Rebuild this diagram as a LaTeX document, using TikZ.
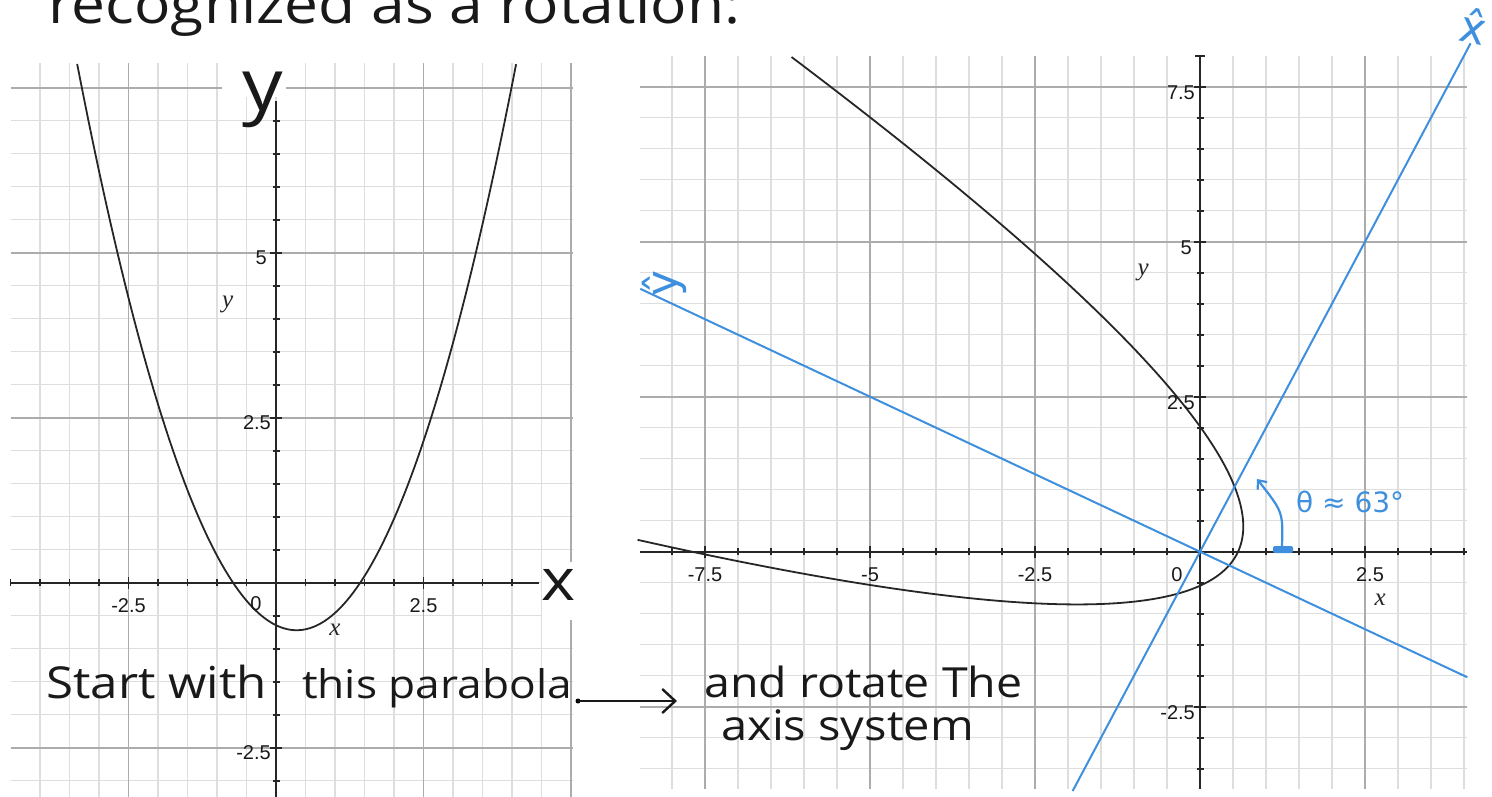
\documentclass[tikz,border=0pt]{standalone}
\usepackage{fontspec}
\setmainfont{Liberation Serif}
\newfontfamily\labfont{Liberation Sans}
\newfontfamily\handfont[FakeStretch=1.12]{Open Sans}
\newfontfamily\symfont{DejaVu Sans}
\usetikzlibrary{arrows.meta}
\definecolor{gridminor}{RGB}{222,222,222}
\definecolor{gridmajor}{RGB}{172,172,172}
\definecolor{hatblue}{RGB}{62,144,222}
\begin{document}
\begin{tikzpicture}[x=1pt,y=-1pt,
  minorgrid/.style={gridminor, line width=1.3pt},
  majorgrid/.style={gridmajor, line width=1.7pt},
  axisline/.style={black!85, line width=2.4pt},
  tickmark/.style={black!85, line width=1.8pt},
  curveline/.style={black!85, line width=1.8pt},
  rotaxis/.style={hatblue, line width=2pt},
  ticklabel/.style={font=\labfont\fontsize{20}{20}\selectfont, inner sep=0pt, text=black!90},
  varlabel/.style={font=\itshape\fontsize{25}{25}\selectfont, inner sep=0pt, text=black!85},
  hand/.style={font=\handfont\fontsize{42}{48}\selectfont, inner sep=0pt, text=black!90},
  bluehand/.style={text=hatblue, inner sep=0pt},
]
\useasboundingbox (0,0) rectangle (1492,796);
\clip (0,0) rectangle (1492,796);

% ---------------- left graph ----------------
\begin{scope}[shift={(276,582.7)}, x=59pt, y=66pt]
  \foreach \i in {-8,...,10} \draw[minorgrid] (\i/2,-3.3) -- (\i/2,7.87);
  \foreach \j in {-6,...,15} \draw[minorgrid] (-4.5,\j/2) -- (5.03,\j/2);
  \foreach \v in {-2.5,2.5,5} \draw[majorgrid] (\v,-3.3) -- (\v,7.87);
  \foreach \v in {-2.5,2.5,5,7.5} \draw[majorgrid] (-4.5,\v) -- (5.03,\v);
\end{scope}
% white patches behind hand-written letters
\fill[white] (222,62) rectangle (286,97);
\fill[white] (542,562) rectangle (600,620);
\begin{scope}[shift={(276,582.7)}, x=59pt, y=66pt]
  \draw[axisline] (-4.5,0) -- (4.45,0);
  \draw[axisline] (0,-3.3) -- (0,7.3);
  \foreach \i in {-9,...,-1,1,2,...,8} \draw[tickmark] (\i/2,0) ++(0pt,-3.5pt) -- ++(0pt,7pt);
  \foreach \j in {-6,...,-1,1,2,...,14} \draw[tickmark] (0,\j/2) ++(-3.5pt,0pt) -- ++(7pt,0pt);
  \foreach \v in {-2.5,2.5} \draw[tickmark] (\v,0) ++(0pt,-6pt) -- ++(0pt,12pt);
  \foreach \v in {-2.5,2.5,5} \draw[tickmark] (0,\v) ++(-6pt,0pt) -- ++(12pt,0pt);
  \draw[curveline] plot[domain=-3.37:4.07, samples=120] (\x, {0.62*(\x-0.35)*(\x-0.35)-0.72});
  \node[ticklabel] (lxm) at (-2.5,0) [yshift=-23pt] {-2.5};
  \node[ticklabel] (lx0) at (0,0) [xshift=-20pt, yshift=-21pt] {0};
  \node[ticklabel] (lxp) at (2.5,0) [yshift=-23pt] {2.5};
  \node[ticklabel, anchor=east] (ly5) at (0,5) [xshift=-9pt, yshift=-5pt] {5};
  \node[ticklabel, anchor=east] (ly25) at (0,2.5) [xshift=-5pt, yshift=-5pt] {2.5};
  \node[ticklabel, anchor=east] (lym) at (0,-2.5) [xshift=-5pt, yshift=-5pt] {-2.5};
  \node[varlabel] (lvx) at (1.0,-0.72) {x};
  \node[varlabel] (lvy) at (-0.82,4.22) {y};
\end{scope}
\node[hand, font=\handfont\fontsize{72}{72}\selectfont, anchor=base] (hy) at (263,110) {y};
\node[hand, font=\handfont\fontsize{58}{58}\selectfont, anchor=base] (hx) at (559,600) {x};

% ---------------- right graph ----------------
\begin{scope}[shift={(1200,551.7)}, x=66pt, y=62pt]
  \foreach \i in {-16,...,8} \draw[minorgrid] (\i/2,-3.82) -- (\i/2,8);
  \foreach \j in {-7,...,15} \draw[minorgrid] (-8.48,\j/2) -- (4.05,\j/2);
  \foreach \v in {-7.5,-5,-2.5,2.5} \draw[majorgrid] (\v,-3.82) -- (\v,8);
  \foreach \v in {-2.5,2.5,5,7.5} \draw[majorgrid] (-8.48,\v) -- (4.05,\v);
  \draw[axisline] (-8.48,0) -- (4.05,0);
  \draw[axisline] (0,-3.82) -- (0,8);
  \draw[tickmark] (0,8) ++(-5pt,0pt) -- ++(10pt,0pt);
  \foreach \i in {-16,...,-1,1,2,...,8} \draw[tickmark] (\i/2,0) ++(0pt,-3.5pt) -- ++(0pt,7pt);
  \foreach \j in {-7,...,-1,1,2,...,15} \draw[tickmark] (0,\j/2) ++(-3.5pt,0pt) -- ++(7pt,0pt);
  \foreach \v in {-7.5,-5,-2.5,2.5} \draw[tickmark] (\v,0) ++(0pt,-6pt) -- ++(0pt,12pt);
  \foreach \v in {-2.5,2.5,5,7.5} \draw[tickmark] (0,\v) ++(-6pt,0pt) -- ++(12pt,0pt);
  \draw[curveline] plot[domain=-3.64:4.37, samples=160, variable=\t]
    ({0.4472*\t - 0.8944*(0.5556*\t*\t - 0.2306*\t - 0.493)},
     {0.8944*\t + 0.4472*(0.5556*\t*\t - 0.2306*\t - 0.493)});
  \coordinate (xhs) at (-1.93,-3.86);
  \coordinate (xhe) at (4.1,8.2);
  \coordinate (yhs) at (-8.48,4.24);
  \coordinate (yhe) at (4.05,-2.025);
  \draw[rotaxis] (xhs) -- (xhe);
  \draw[rotaxis] (yhs) -- (yhe);
  \node[ticklabel] (rxa) at (-7.5,0) [yshift=-23pt] {-7.5};
  \node[ticklabel] (rxb) at (-5,0) [yshift=-23pt] {-5};
  \node[ticklabel] (rxc) at (-2.5,0) [yshift=-23pt] {-2.5};
  \node[ticklabel] (rx0) at (0,0) [xshift=-23pt, yshift=-23pt] {0};
  \node[ticklabel] (rxd) at (2.5,0) [xshift=5pt, yshift=-23pt] {2.5};
  \node[ticklabel, anchor=east] (rya) at (0,7.5) [xshift=-5pt, yshift=-6pt] {7.5};
  \node[ticklabel, anchor=east] (ryb) at (0,5) [xshift=-8pt, yshift=-6pt] {5};
  \node[ticklabel, anchor=east] (ryc) at (0,2.5) [xshift=-5pt, yshift=-6pt] {2.5};
  \node[ticklabel, anchor=east] (ryd) at (0,-2.5) [xshift=-5pt, yshift=-6pt] {-2.5};
  \node[varlabel] (rvx) at (2.73,-0.78) {x};
  \node[varlabel] (rvy) at (-0.86,4.5) {y};
\end{scope}

% theta annotation
\fill[hatblue, rounded corners=2pt] (1273,546) rectangle (1293,553);
\coordinate (thS) at (1282,546);
\coordinate (thE) at (1257,479);
\draw[hatblue, line width=2.2pt, line cap=round, -{Straight Barb[length=7pt,width=12pt]}]
  (thS) .. controls (1283,512) .. (thE);
\node[bluehand, font=\symfont\fontsize{28}{28}\selectfont, anchor=base west] (theta) at (1296,512) {θ ≈ 63°};
\node[bluehand, font=\symfont\fontsize{44}{44}\selectfont, rotate=-12] (xhat) at (1474,26) {x̂};
\node[bluehand, font=\symfont\fontsize{44}{44}\selectfont, rotate=90] (yhat) at (664,283) {ŷ};

% handwritten text
\node[hand, font=\handfont\fontsize{54}{54}\selectfont, anchor=base west] (title) at (48,23) {recognized as a rotation:};
\node[hand, font=\handfont\fontsize{44}{48}\selectfont, anchor=base west] (start) at (46,698) {Start with};
\node[hand, font=\handfont\fontsize{39.5}{48}\selectfont, anchor=base west] (parab) at (302,698) {this parabola};
\node[hand, font=\handfont\fontsize{41.5}{48}\selectfont, anchor=base west] (rot1) at (704,697) {and rotate The};
\node[hand, anchor=base west] (rot2) at (721,740) {axis system};
\coordinate (arS) at (578,701);
\coordinate (arE) at (677,701);
\fill[black] (arS) circle (2.5pt);
\draw[black!90, line width=2.4pt, -{Straight Barb[length=13pt,width=24pt]}] (arS) -- (arE);
\end{tikzpicture}
\end{document}
